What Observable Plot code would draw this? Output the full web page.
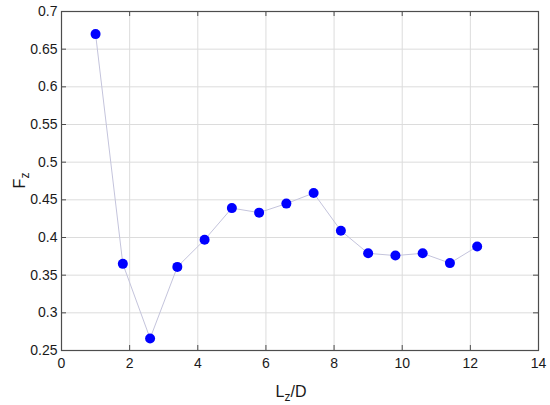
<!DOCTYPE html>
<html>
<head>
<meta charset="utf-8">
<script src="https://cdn.jsdelivr.net/npm/d3@7"></script>
<script src="https://cdn.jsdelivr.net/npm/@observablehq/plot@0.6"></script>
<style>
  html, body { margin: 0; padding: 0; background: #fff; }
  #chart svg { display: block; }
</style>
</head>
<body>
<div id="chart"></div>
<script>
const lzD = [1.0, 1.8, 2.6, 3.4, 4.2, 5.0, 5.8, 6.6, 7.4, 8.2, 9.0, 9.8, 10.6, 11.4, 12.2];
const fz  = [0.670, 0.365, 0.266, 0.361, 0.397, 0.439, 0.433, 0.445, 0.459, 0.409, 0.379, 0.376, 0.379, 0.366, 0.388];
const xTicks = [0, 2, 4, 6, 8, 10, 12, 14];
const yTicks = [0.25, 0.3, 0.35, 0.4, 0.45, 0.5, 0.55, 0.6, 0.65, 0.7];
const yTickLabels = ["0.25", "0.3", "0.35", "0.4", "0.45", "0.5", "0.55", "0.6", "0.65", "0.7"];

const data = lzD.map((x, i) => ({x, y: fz[i]}));

const W = 550, H = 405;
const mL = 61, mR = 12, mT = 11, mB = 55;
const innerH = H - mT - mB;
const innerW = W - mL - mR;
const tickLen = 5;
const axisColor = "#4d4d4d";
const font = "'Liberation Sans', Arial, sans-serif";

const plot = Plot.plot({
  width: W,
  height: H,
  marginLeft: mL,
  marginRight: mR,
  marginTop: mT,
  marginBottom: mB,
  style: {fontFamily: font, fontSize: "14px", color: "#262626", background: "#fff"},
  x: {domain: [0, 14], ticks: xTicks},
  y: {domain: [0.25, 0.7], ticks: yTicks},
  marks: [
    Plot.gridX(xTicks, {stroke: "#dcdcdc", strokeOpacity: 1}),
    Plot.gridY(yTicks, {stroke: "#dcdcdc", strokeOpacity: 1}),
    // inward ticks on all four sides
    Plot.tickX(xTicks, {x: d => d, stroke: axisColor, insetTop: innerH - tickLen}),
    Plot.tickX(xTicks, {x: d => d, stroke: axisColor, insetBottom: innerH - tickLen}),
    Plot.tickY(yTicks, {y: d => d, stroke: axisColor, insetRight: innerW - tickLen}),
    Plot.tickY(yTicks, {y: d => d, stroke: axisColor, insetLeft: innerW - tickLen}),
    Plot.frame({stroke: axisColor, strokeWidth: 1.2}),
    Plot.axisX(xTicks, {tickSize: 0, tickPadding: 8, label: null, fill: "#1a1a1a"}),
    Plot.axisY(yTicks, {tickSize: 0, tickPadding: 4, label: null, fill: "#1a1a1a",
      tickFormat: (d) => yTickLabels[yTicks.indexOf(d)]}),
    Plot.line(data, {x: "x", y: "y", stroke: "#c4c4dc", strokeWidth: 1}),
    Plot.dot(data, {x: "x", y: "y", r: 5, fill: "#0000ff", stroke: "none"})
  ]
});

document.getElementById("chart").appendChild(plot);

const svg = d3.select(plot);
svg.selectAll('g[aria-label$="tick label"]').style("font-size", "14px");

// axis titles with subscripts
const xl = svg.append("text")
  .attr("x", 291)
  .attr("y", 397)
  .attr("text-anchor", "middle")
  .attr("font-family", font)
  .attr("font-size", 16)
  .attr("fill", "#1a1a1a");
xl.append("tspan").text("L");
xl.append("tspan").attr("font-size", 12).attr("dy", 4).text("z");
xl.append("tspan").attr("dy", -4).text("/D");

const yl = svg.append("text")
  .attr("transform", `translate(25, ${mT + innerH / 2}) rotate(-90)`)
  .attr("text-anchor", "middle")
  .attr("font-family", font)
  .attr("font-size", 16)
  .attr("fill", "#1a1a1a");
yl.append("tspan").text("F");
yl.append("tspan").attr("font-size", 12).attr("dy", 4).text("z");
</script>
</body>
</html>
